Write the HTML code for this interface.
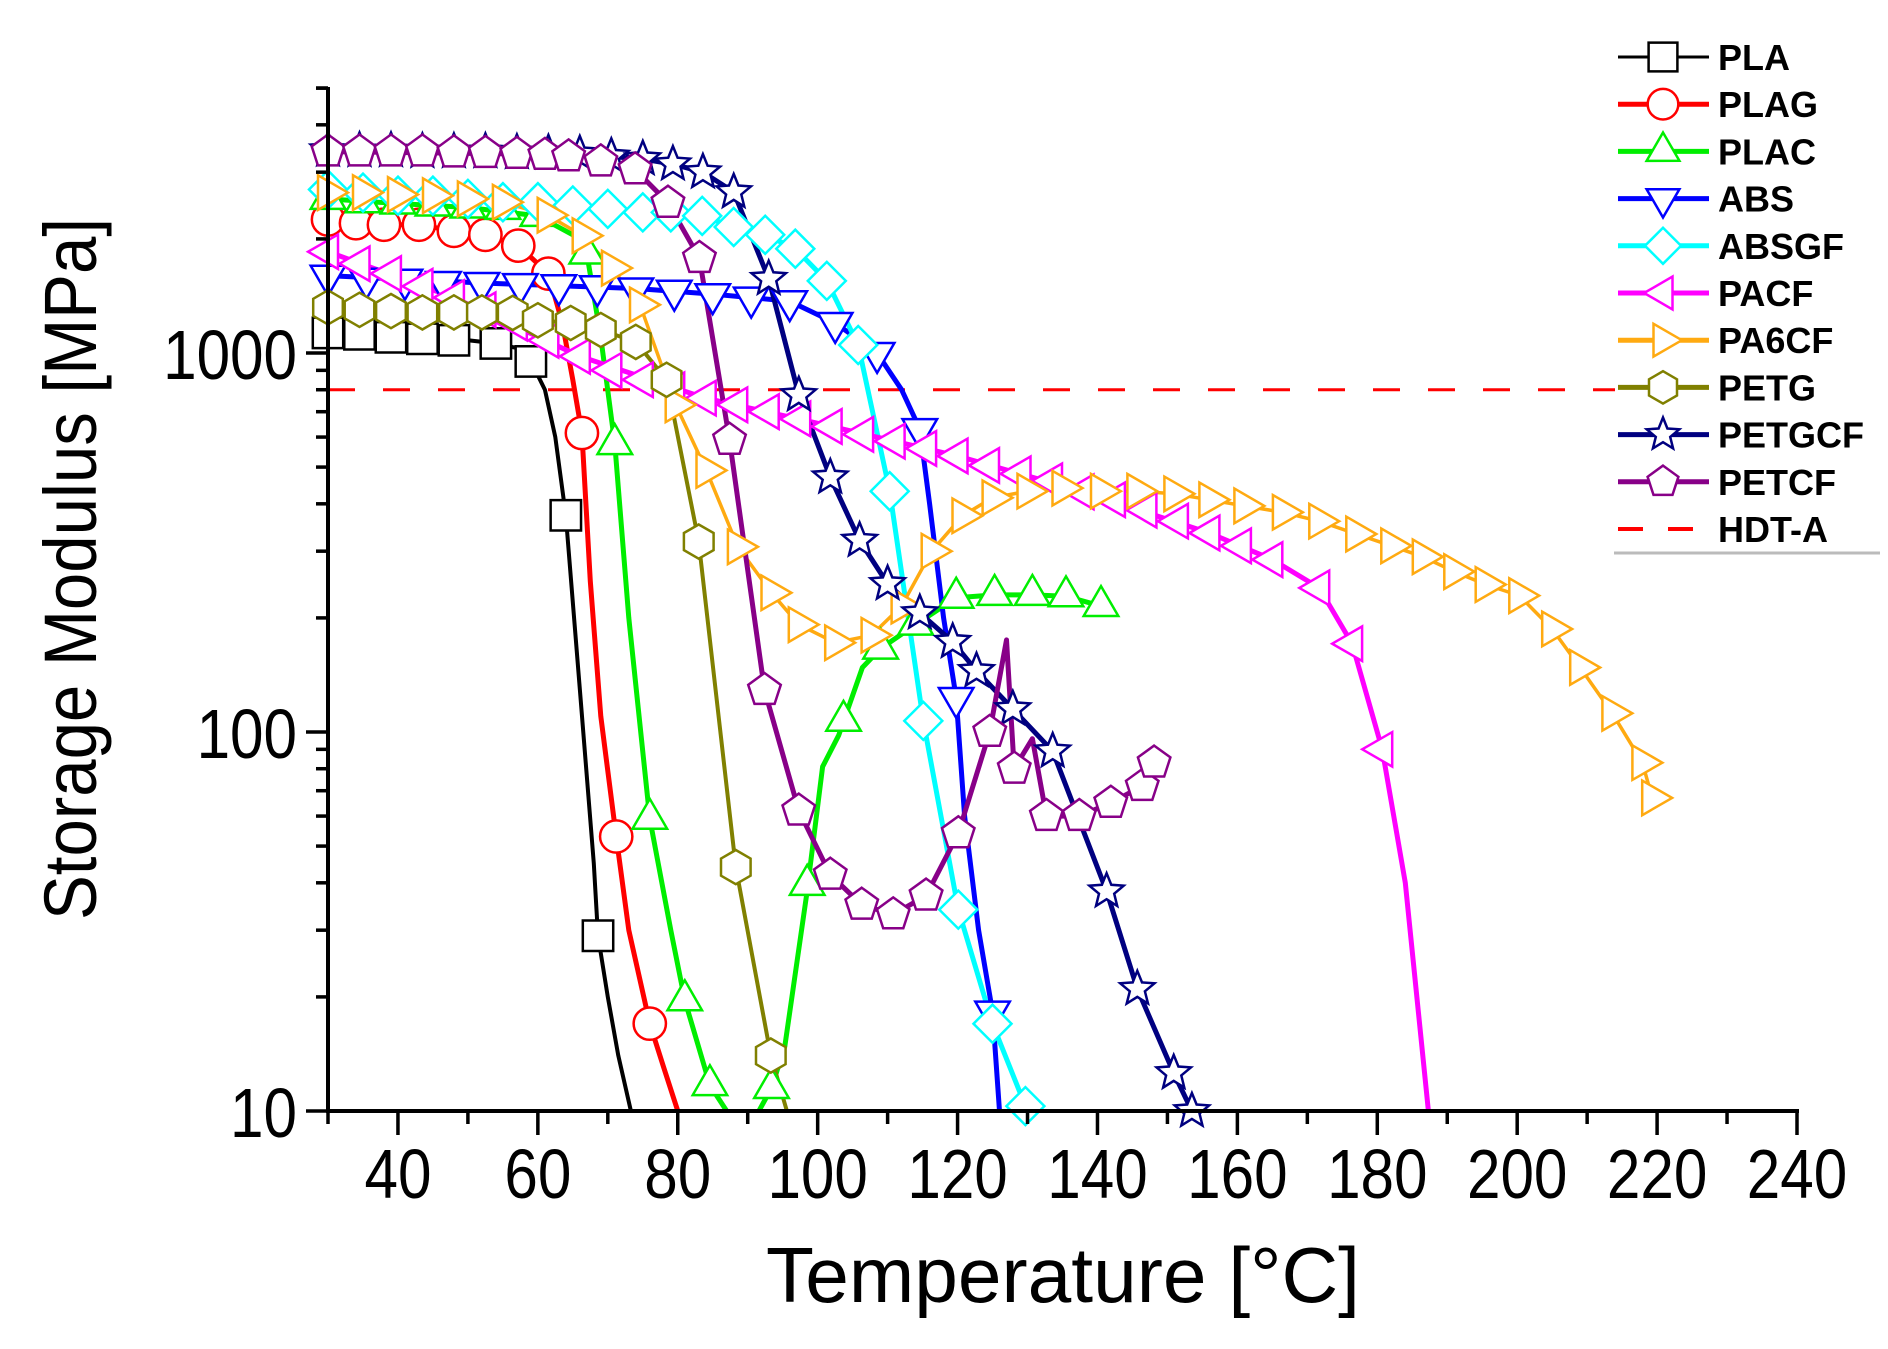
<!DOCTYPE html>
<html><head><meta charset="utf-8"><style>
html,body{margin:0;padding:0;background:#fff;}
svg{display:block;font-family:"Liberation Sans",Arial,sans-serif;}
</style></head><body>
<svg id="chart" width="1888" height="1349" viewBox="0 0 1888 1349" xmlns="http://www.w3.org/2000/svg">
<defs><clipPath id="plotclip"><rect x="328" y="80" width="1480" height="1031"/></clipPath></defs>
<g id="lines" clip-path="url(#plotclip)"></g>
<g id="marks"></g>
<g id="axes"></g>
<text transform="translate(96,569) rotate(-90)" text-anchor="middle" font-size="74" textLength="702" lengthAdjust="spacingAndGlyphs">Storage Modulus [MPa]</text>
<text x="1063" y="1302" text-anchor="middle" font-size="78" textLength="594" lengthAdjust="spacingAndGlyphs">Temperature [°C]</text>
<g id="legend"></g>
</svg>
<script>
const names = ["PLA","PLAG","PLAC","ABS","ABSGF","PACF","PA6CF","PETG","PETGCF","PETCF"];
const colors = ["#000000","#ff0000","#00ee00","#0000ff","#00ffff","#ff00ff","#ffaa11","#808000","#000080","#880088"];
const shapes = ["square","circle","up","down","diamond","left","right","hex","star","pent"];
const lineWidths = [4,5,5,5,5,5,3.5,4,5,5];

// marker data
const mT_PLA = [30,34.5,39,43.5,48,54,59,64,68.6];
const mV_PLA = [1130,1120,1100,1090,1080,1060,950,373,29];
const mT_PLAG = [30,34,38,43,48,52.5,57.2,61.5,66.3,71.2,76];
const mV_PLAG = [2250,2200,2180,2180,2100,2050,1920,1620,615,53,17];
const mT_PLAC = [30,35,40,45,50,55,60,67,71,76,81,84.6,93.4,98.5,103.7,109,114,119.8,125.3,130.7,135.5,140.5];
const mV_PLAC = [2550,2500,2480,2450,2420,2400,2300,1830,575,59,19.6,11.7,11.5,39.5,107,166,192,226,230,230,228,215];
const mT_ABS = [30,35.5,41,46.5,52,57.5,63,68.5,74,79.5,85,90.5,96,102.5,108.5,114.6,119.8,125];
const mV_ABS = [1600,1570,1560,1540,1530,1520,1510,1500,1480,1460,1430,1400,1370,1200,1000,630,123,18.3];
const mT_ABSGF = [30,35,40,45,50,55,60,65,70,75,79,83.5,88,92.5,96.8,101.3,105.8,110.3,115.1,120.1,125,129.7];
const mV_ABSGF = [2700,2650,2600,2600,2550,2500,2500,2450,2400,2350,2350,2300,2150,2050,1885,1550,1050,432,107,34,17,10.3];
const mT_PACF = [30,34.5,39,43.5,48,52.5,57,61.5,66,70.5,75,79.5,84,88.5,93,97.5,102,106.5,111,115.5,120,124.5,129,133.5,138,142.5,147,151.5,156,160.5,165,171.7,176.4,180.7];
const mV_PACF = [1850,1720,1620,1500,1400,1300,1200,1080,980,900,850,800,760,730,700,670,640,610,585,560,535,505,480,460,430,410,385,360,335,310,285,240,171,90];
const mT_PA6CF = [30,35,40,45,50,55,61.4,66.4,70.6,74.6,79.7,84.1,88.6,93.4,97.3,102.5,107.7,112,116.3,120.7,125,130,135,140.5,145.7,151,156,161,166.5,171.7,177,182,186.5,191,195.5,200.3,205,209,213.6,217.9,219.3];
const mV_PA6CF = [2650,2650,2620,2600,2550,2500,2310,2040,1675,1340,730,490,308,233,192,172,180,215,300,372,415,432,440,432,432,425,410,395,380,360,333,310,290,265,245,229,187,148,112,83,67];
const mT_PETG = [30,34.5,39,43.5,48,52,56.4,60,64.7,69,74,78.4,83,88.3,93.3];
const mV_PETG = [1320,1300,1290,1280,1280,1280,1276,1220,1200,1150,1070,850,318,44,14];
const mT_PETGCF = [30,34.5,39,43.5,48,52.5,57,61.5,66,70.5,75,79.3,83.6,88,93,97.3,101.8,106,110,114.6,119.3,122.7,127.9,133.6,141.3,145.7,150.9,153.5];
const mV_PETGCF = [3430,3420,3420,3400,3400,3400,3380,3370,3350,3300,3250,3150,3000,2660,1570,775,470,320,246,206,173,145,115,89,38,21,12.6,10];
const mT_PETCF = [30,34.5,39,43.5,48,52.5,57,61,64.4,69,73.9,78.6,83.1,87.4,92.4,97.3,101.8,106.3,110.8,115.5,120.1,124.6,128.1,132.7,137.4,141.9,146.4,148.1];
const mV_PETCF = [3400,3400,3400,3400,3380,3370,3350,3330,3300,3200,3050,2490,1780,590,129,62,42,35,33,37,54,100,80,60,60,65,72,83];

// line data
const lT_PLA = [30,40,50,54,57,59,61,62.5,64,66,68,68.6,70,71.5,73.3];
const lV_PLA = [1130,1100,1080,1060,1030,950,800,600,373,130,45,29,20,14,10];
const lT_PLAG = [30,38,43,48,52.5,57.2,61.5,63.5,65,66.3,67.5,69,71.2,73,76,78,80];
const lV_PLAG = [2250,2180,2180,2100,2050,1920,1620,1200,850,615,250,110,53,30,17,13,10];
const lT_PLAC = [30,40,50,60,65,67,69,71,73,76,79,81,84.6,87,89,91.6,93.4,95.3,98.4,100.7,103,106.4,109,114,119.8,125.3,130.7,135.5,140.5];
const lV_PLAC = [2550,2480,2420,2300,2050,1830,1100,575,200,59,30,19.6,11.7,10,8,10,11.5,14.8,37,81,98,148,166,192,226,230,230,228,215];
const lT_ABS = [30,52,74,85,96,102.5,108.5,112,114.6,116,118,119.8,121,123,125,126];
const lV_ABS = [1600,1530,1480,1430,1370,1200,1000,800,630,400,200,123,60,30,18.3,10];
const lT_ABSGF = mT_ABSGF;
const lV_ABSGF = mV_ABSGF;
const lT_PACF = [30,48,66,84,102,120,138,156,165,171.7,176.4,180.7,184,187.3];
const lV_PACF = [1850,1400,980,760,640,535,430,335,285,240,171,90,40,10];
const lT_PA6CF = mT_PA6CF;
const lV_PA6CF = mV_PA6CF;
const lT_PETG = [30,48,56.4,60,64.7,69,74,78.4,83,88.3,93.3,95.6];
const lV_PETG = [1320,1280,1276,1220,1200,1150,1070,850,318,44,14,10];
const lT_PETGCF = mT_PETGCF;
const lV_PETGCF = mV_PETGCF;
const lT_PETCF = [30,57,64.4,69,73.9,78.6,83.1,87.4,92.4,97.3,101.8,106.3,110.8,115.5,120.1,124.6,127,128.1,130.7,132.7,137.4,141.9,146.4,148.1];
const lV_PETCF = [3400,3350,3300,3200,3050,2490,1780,590,129,62,42,35,33,37,54,100,175,80,96,60,60,65,72,83];

const hdtValue = 800;
const xTicks = [40,60,80,100,120,140,160,180,200,220,240];
const yTicks = [10,100,1000];
const yTickLabels = ["10","100","1000"];

const markerT = [mT_PLA,mT_PLAG,mT_PLAC,mT_ABS,mT_ABSGF,mT_PACF,mT_PA6CF,mT_PETG,mT_PETGCF,mT_PETCF];
const markerV = [mV_PLA,mV_PLAG,mV_PLAC,mV_ABS,mV_ABSGF,mV_PACF,mV_PA6CF,mV_PETG,mV_PETGCF,mV_PETCF];
const lineT = [lT_PLA,lT_PLAG,lT_PLAC,lT_ABS,lT_ABSGF,lT_PACF,lT_PA6CF,lT_PETG,lT_PETGCF,lT_PETCF];
const lineV = [lV_PLA,lV_PLAG,lV_PLAC,lV_ABS,lV_ABSGF,lV_PACF,lV_PA6CF,lV_PETG,lV_PETGCF,lV_PETCF];

const X0=328, X1=1797, Y0=1111, DEC=379, TMIN=30, TMAX=240;
function xs(t){return X0+(t-TMIN)*(X1-X0)/(TMAX-TMIN);}
function ys(v){return Y0-(Math.log10(v)-1)*DEC;}
const NS="http://www.w3.org/2000/svg";
function mk(tag,attrs,parent){const e=document.createElementNS(NS,tag);for(const k in attrs)e.setAttribute(k,attrs[k]);parent.appendChild(e);return e;}

function shapePath(s,cx,cy,r){
  const pts=[];
  function poly(n,rot,rad){for(let i=0;i<n;i++){const a=rot+i*2*Math.PI/n;pts.push([cx+rad*Math.cos(a),cy+rad*Math.sin(a)]);}}
  if(s==="square"){const h=r*0.8;return `M${cx-h},${cy-h}H${cx+h}V${cy+h}H${cx-h}Z`;}
  if(s==="up")poly(3,-Math.PI/2,r*1.05);
  else if(s==="down")poly(3,Math.PI/2,r*1.05);
  else if(s==="left")poly(3,Math.PI,r*1.05);
  else if(s==="right")poly(3,0,r*1.05);
  else if(s==="diamond")poly(4,0,r);
  else if(s==="hex")poly(6,-Math.PI/2,r*0.9);
  else if(s==="pent")poly(5,-Math.PI/2,r*0.9);
  else if(s==="star"){for(let i=0;i<10;i++){const a=-Math.PI/2+i*Math.PI/5;const rr=i%2?r*0.42:r*0.95;pts.push([cx+rr*Math.cos(a),cy+rr*Math.sin(a)]);}}
  return "M"+pts.map(p=>p[0].toFixed(1)+","+p[1].toFixed(1)).join("L")+"Z";
}
function marker(parent,s,cx,cy,r,col,sw){
  if(s==="circle")return mk("circle",{cx:cx,cy:cy,r:r*0.85,fill:"#fff",stroke:col,"stroke-width":sw},parent);
  return mk("path",{d:shapePath(s,cx,cy,r),fill:"#fff",stroke:col,"stroke-width":sw,"stroke-linejoin":"miter"},parent);
}

const gL=document.getElementById("lines"), gM=document.getElementById("marks"), gA=document.getElementById("axes"), gLeg=document.getElementById("legend");

const hdt=mk("line",{x1:X0,x2:1615,y1:ys(hdtValue),y2:ys(hdtValue),stroke:"#ff0000","stroke-width":3,"stroke-dasharray":"27,28"},gL);



for(let i=0;i<names.length;i++){
  const d=lineT[i].map((t,j)=>(j?"L":"M")+xs(t).toFixed(1)+","+ys(lineV[i][j]).toFixed(1)).join("");
  const p=mk("path",{d:d,fill:"none",stroke:colors[i],"stroke-width":lineWidths[i],"stroke-linejoin":"round"},gL);
  
  
  const g=mk("g",{},gM);
  
  
  for(let j=0;j<markerT[i].length;j++){
    const m=marker(g,shapes[i],xs(markerT[i][j]),ys(markerV[i][j]),19,colors[i],2.5);
    
    
  }
}

const ya=mk("line",{x1:X0,x2:X0,y1:87,y2:Y0+2,stroke:"#000","stroke-width":4},gA);


const xa=mk("line",{x1:X0-2,x2:X1+2,y1:Y0,y2:Y0,stroke:"#000","stroke-width":4},gA);


for(let t=30;t<=240;t+=10){
  const major=(t%20===0);
  mk("line",{x1:xs(t),x2:xs(t),y1:Y0,y2:Y0+(major?24:13),stroke:"#000","stroke-width":3.5},gA);
}
xTicks.forEach(t=>{
  const tx=mk("text",{x:0,y:0,"text-anchor":"middle","font-size":70,transform:`translate(${xs(t)},1198) scale(0.86,1)`},gA);
  tx.textContent=String(t);
  
  
});
for(let dec=1;dec<=3;dec++){
  for(let k=1;k<=9;k++){
    const v=k*Math.pow(10,dec);
    if(v>5000)break;
    const y=ys(v);
    mk("line",{x1:X0,x2:X0-(k===1?22:12),y1:y,y2:y,stroke:"#000","stroke-width":3.5},gA);
  }
}
mk("line",{x1:X0,x2:X0-12,y1:ys(5000),y2:ys(5000),stroke:"#000","stroke-width":3.5},gA);
yTicks.forEach((v,i)=>{
  const tx=mk("text",{x:0,y:0,"text-anchor":"end","font-size":70,transform:`translate(297,${ys(v)+26}) scale(0.86,1)`},gA);
  tx.textContent=yTickLabels[i];
  
  
});

for(let i=0;i<=names.length;i++){
  const cy=57+47.2*i;
  const g=mk("g",{},gLeg);
  
  
  if(i<names.length){
    mk("line",{x1:1618,x2:1709,y1:cy,y2:cy,stroke:colors[i],"stroke-width":i===0?3:5},g);
    marker(g,shapes[i],1663,cy,18,colors[i],2.5);
  } else {
    mk("line",{x1:1618,x2:1701,y1:cy,y2:cy,stroke:"#ff0000","stroke-width":4,"stroke-dasharray":"25,25"},g);
  }
  const tx=mk("text",{x:1718,y:cy+13,"font-size":36,"font-weight":"bold"},g);
  tx.textContent=i<names.length?names[i]:"HDT-A";
}
mk("line",{x1:1614,x2:1880,y1:553,y2:553,stroke:"#bbb","stroke-width":3},gLeg);
</script>
</body></html>
